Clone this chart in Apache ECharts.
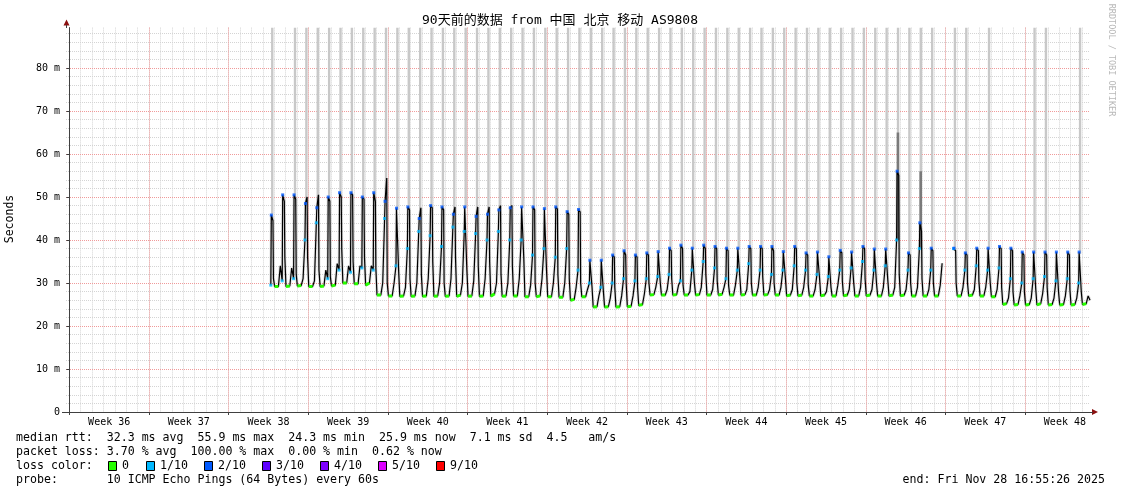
<!DOCTYPE html>
<html><head><meta charset="utf-8">
<script src="https://cdn.jsdelivr.net/npm/echarts@6/dist/echarts.min.js"></script>
<style>html,body{margin:0;padding:0;background:#fff}#c{width:1121px;height:494px}</style>
</head><body><div id="c"></div>
<script>
// ---------------- data ----------------
const TITLE = '90天前的数据 from 中国 北京 移动 AS9808';
const Y_TITLE = 'Seconds';
const WATERMARK = 'RRDTOOL / TOBI OETIKER';
const WEEK_NUMBERS = [36, 37, 38, 39, 40, 41, 42, 43, 44, 45, 46, 47, 48];
const Y_TICKS = [0, 10, 20, 30, 40, 50, 60, 70, 80];
// x = days since Sun Aug 31 2025 00:00 ; window = Aug 30 16:55:26 .. Nov 28 16:55:26
const X_MIN = -0.29484, X_MAX = 89.70516;
const Y_MAX = 89.4;
const FIRST_DAY = 17;
// hour-of-day of each value in a row: low, low, afternoon, pre-rise, peak, peak end, shoulder
const SLOT_HOURS = [1, 9, 13, 17, 18, 21.5, 22.5];
const DAY_ROWS = [
  [null, null, null, 29.5, 45.8, 44.5, 31.0],
  [29.2, 29.2, 34.0, 30.5, 50.5, 49.0, 36.0],
  [29.2, 29.3, 33.5, 31.0, 50.5, 49.5, 32.0],
  [29.3, 29.4, 31.0, 40.0, 48.5, 50.0, 36.0],
  [29.2, 29.2, 30.5, 44.0, 47.5, 50.5, 33.0],
  [29.2, 29.3, 33.0, 31.0, 50.0, 49.0, 31.5],
  [29.3, 29.5, 34.5, 33.0, 51.0, 50.0, 38.0],
  [30.0, 30.0, 34.0, 32.5, 51.0, 50.5, 35.0],
  [29.8, 29.8, 34.0, 33.5, 50.0, 49.5, 36.0],
  [29.5, 30.0, 34.0, 33.0, 51.0, 49.0, 33.5],
  [27.2, 27.2, 30.0, 45.0, 49.0, 54.4, 30.0],
  [27.0, 27.0, 30.0, 34.0, 47.4, 47.0, 33.0],
  [26.9, 27.0, 29.0, 38.0, 47.7, 47.0, 31.0],
  [26.9, 27.0, 30.0, 42.0, 45.0, 47.5, 32.0],
  [26.9, 27.0, 31.0, 41.0, 48.0, 47.5, 35.0],
  [26.9, 27.0, 30.0, 38.5, 47.7, 47.0, 30.0],
  [26.9, 27.0, 31.0, 43.0, 46.0, 47.7, 36.0],
  [26.9, 27.2, 30.0, 42.0, 47.7, 47.5, 33.0],
  [26.9, 27.0, 30.5, 41.5, 45.5, 47.7, 34.0],
  [26.9, 27.0, 31.0, 40.0, 46.0, 47.7, 35.0],
  [26.9, 27.5, 30.0, 42.0, 47.0, 48.0, 32.0],
  [26.9, 27.0, 30.0, 40.0, 47.5, 48.0, 34.0],
  [27.0, 27.0, 31.0, 40.0, 47.7, 47.5, 36.0],
  [26.8, 26.8, 29.5, 36.5, 47.7, 47.0, 30.0],
  [26.8, 27.0, 31.0, 38.0, 47.3, 47.0, 33.0],
  [26.8, 26.8, 30.0, 36.0, 47.7, 47.2, 32.0],
  [26.7, 26.7, 30.0, 38.0, 46.6, 46.0, 31.0],
  [26.0, 26.2, 29.0, 33.0, 47.1, 46.5, 30.0],
  [26.8, 26.8, 28.5, 30.0, 35.3, 35.0, 29.0],
  [24.4, 24.5, 27.0, 29.0, 35.3, 35.0, 28.0],
  [24.4, 24.5, 26.5, 30.0, 36.5, 36.0, 29.0],
  [24.4, 24.5, 27.0, 31.0, 37.5, 36.5, 30.0],
  [24.5, 24.6, 27.0, 30.5, 36.5, 36.0, 29.0],
  [24.8, 25.0, 27.5, 31.0, 37.0, 36.5, 30.0],
  [27.2, 27.3, 29.0, 31.5, 37.3, 37.0, 30.0],
  [27.2, 27.2, 28.5, 32.0, 38.1, 37.5, 31.0],
  [27.2, 27.3, 29.5, 30.5, 38.8, 38.0, 29.5],
  [27.2, 27.2, 28.0, 33.0, 38.1, 37.8, 30.0],
  [27.2, 27.3, 29.0, 35.0, 38.8, 38.0, 32.0],
  [27.2, 27.2, 28.5, 33.5, 38.5, 38.0, 30.5],
  [27.2, 27.4, 29.0, 31.0, 38.1, 37.5, 29.5],
  [27.2, 27.2, 29.5, 33.0, 38.1, 37.8, 31.0],
  [27.2, 27.3, 28.5, 34.5, 38.5, 38.0, 30.0],
  [27.2, 27.2, 29.0, 33.0, 38.5, 38.0, 31.5],
  [27.2, 27.3, 28.5, 32.0, 38.5, 37.5, 30.0],
  [27.2, 27.2, 29.0, 33.0, 37.3, 37.0, 31.0],
  [27.0, 27.2, 28.5, 34.0, 38.5, 38.0, 30.0],
  [27.0, 27.2, 29.0, 33.0, 37.0, 36.5, 29.5],
  [27.0, 27.0, 28.5, 32.0, 37.2, 37.0, 31.0],
  [27.0, 27.2, 28.0, 31.5, 36.1, 36.0, 29.0],
  [27.0, 27.0, 29.5, 33.0, 37.6, 37.0, 30.5],
  [27.0, 27.2, 28.5, 33.5, 37.2, 37.0, 30.0],
  [27.0, 27.0, 29.0, 35.0, 38.5, 38.0, 31.0],
  [27.0, 27.2, 28.5, 33.0, 37.9, 37.5, 30.0],
  [27.0, 27.0, 29.0, 34.0, 37.9, 37.5, 30.5],
  [27.0, 27.2, 29.0, 40.0, 56.0, 55.0, 32.0],
  [27.0, 27.2, 28.5, 33.0, 37.0, 36.5, 30.0],
  [27.0, 27.0, 29.0, 38.0, 44.0, 42.0, 31.0],
  [27.0, 27.0, 28.5, 33.0, 38.1, 37.5, 30.0],
  [27.0, 27.0, 29.5, 34.6, null, null, null],
  [null, null, null, 38.0, 38.1, 37.5, 30.0],
  [27.0, 27.0, 29.0, 33.0, 37.0, 36.5, 30.0],
  [27.0, 27.2, 28.5, 34.0, 38.1, 37.5, 30.5],
  [27.0, 27.0, 29.0, 33.0, 38.1, 37.8, 30.0],
  [26.8, 26.8, 28.5, 33.5, 38.5, 38.0, 29.0],
  [25.0, 25.2, 26.5, 31.0, 38.1, 37.5, 28.0],
  [24.9, 25.0, 27.0, 30.0, 37.2, 36.5, 28.0],
  [24.9, 25.0, 26.5, 31.0, 37.2, 36.8, 28.5],
  [24.9, 25.2, 27.5, 31.5, 37.2, 36.5, 29.0],
  [24.9, 25.0, 26.5, 30.5, 37.2, 36.8, 28.0],
  [24.9, 25.0, 27.0, 31.0, 37.2, 36.5, 28.5],
  [24.9, 25.0, 26.5, 30.0, 37.2, 36.8, 28.0],
  [25.0, 25.2, 27.0, 26.0, null, null, null]
];
// 1 = that evening's slowest pings went off the top of the chart
const TOP_SMOKE = [
  1,0,1,1,1,1,1,1,1,1,1,
  1,1,1,1,1,1,1,1,1,1,1,1,1,1,1,1,1,
  1,1,1,1,1,1,1,1,1,1,1,1,1,1,1,1,1,1,1,1,1,1,1,1,1,1,1,
  1,1,1,1,0,1,1,0,1,0,0,0,1,1,0,0,1,0
];
const SPIKE_DAYS = [72, 74];
const SPIKE_TOPS = [65, 56];
const STAT_LINES = [
  'median rtt:  32.3 ms avg  55.9 ms max  24.3 ms min  25.9 ms now  7.1 ms sd  4.5   am/s',
  'packet loss: 3.70 % avg  100.00 % max  0.00 % min  0.62 % now'
];
const LOSS_LABEL_TITLE = 'loss color:';
const LOSS_LABELS = ['0', '1/10', '2/10', '3/10', '4/10', '5/10', '9/10'];
const LOSS_COLORS = ['#26ff00', '#00b8ff', '#0059ff', '#5e00ff', '#7e00ff', '#dd00ff', '#ff0000'];
const PROBE_LINE = 'probe:       10 ICMP Echo Pings (64 Bytes) every 60s';
const END_LINE = 'end: Fri Nov 28 16:55:26 2025';

// ---------------- build ----------------
const MONO = "'DejaVu Sans Mono', 'Noto Sans CJK SC', monospace";
const median = [], greens = [], peaks = [], pres = [], bars = [], spikes = [];
DAY_ROWS.forEach((row, i) => {
  const day = FIRST_DAY + i;
  row.forEach((v, j) => median.push([day + SLOT_HOURS[j] / 24, v == null ? '-' : v]));
  if (row[0] != null && row[1] != null) {
    greens.push([day + SLOT_HOURS[0] / 24, row[0]], [day + SLOT_HOURS[1] / 24, row[1]], [day + SLOT_HOURS[1] / 24 + 0.01, '-']);
  }
  if (row[4] != null) peaks.push([day + SLOT_HOURS[4] / 24, row[4]]);
  if (row[3] != null && row[4] != null) pres.push([day + SLOT_HOURS[3] / 24, row[3]]);
  if (TOP_SMOKE[i] && row[4] != null) bars.push([day + 20 / 24, Math.min(row[4], row[5]), Y_MAX]);
});
SPIKE_DAYS.forEach((d, i) => {
  const row = DAY_ROWS[d - FIRST_DAY];
  spikes.push([d + 19.8 / 24, row[3], SPIKE_TOPS[i]]);
});
const DAY_GRID = []; for (let d = 0; d <= 89; d++) DAY_GRID.push(d);
const WEEK_GRID = []; for (let d = 0; d <= 84; d += 7) WEEK_GRID.push(d);
const WEEK_CENTERS = WEEK_NUMBERS.map((w, i) => 3.5 + 7 * i);
const Y_MINOR = []; for (let v = 0; v <= 88; v += 2) Y_MINOR.push(v);

const chart = echarts.init(document.getElementById('c'), null, {renderer: 'canvas'});
const rectItem = (fill, w) => (params, api) => {
  const a = api.coord([api.value(0), api.value(1)]);
  const b = api.coord([api.value(0), api.value(2)]);
  return {type: 'rect', shape: {x: a[0] - w / 2, y: b[1], width: w, height: a[1] - b[1]}, style: {fill: fill}};
};

const graphics = [
  {type: 'text', x: 560, y: 21, style: {text: TITLE, font: '13px ' + MONO, fill: '#000', align: 'center', verticalAlign: 'middle'}},
  {type: 'text', x: 10, y: 219, rotation: Math.PI / 2, style: {text: Y_TITLE, font: '11.5px ' + MONO, fill: '#000', align: 'center', verticalAlign: 'middle'}},
  {type: 'text', x: 1111, y: 60, rotation: -Math.PI / 2, style: {text: WATERMARK, font: '8.5px ' + MONO, fill: '#b8b8b8', align: 'center', verticalAlign: 'middle'}},
  {type: 'polygon', shape: {points: [[63.5, 25.5], [69.5, 25.5], [66.5, 19.5]]}, style: {fill: '#8b1010'}},
  {type: 'polygon', shape: {points: [[1092, 409], [1092, 415], [1098, 412]]}, style: {fill: '#8b1010'}},
  {type: 'line', shape: {x1: 66.5, y1: 25, x2: 66.5, y2: 28}, style: {stroke: '#404040', lineWidth: 1}},
  {type: 'line', shape: {x1: 62, y1: 412.5, x2: 66, y2: 412.5}, style: {stroke: '#404040', lineWidth: 1}},
  {type: 'line', shape: {x1: 1090, y1: 412.5, x2: 1093, y2: 412.5}, style: {stroke: '#404040', lineWidth: 1}},
  {type: 'text', x: 16, y: 438, style: {text: STAT_LINES[0], font: '11.6px ' + MONO, fill: '#000', verticalAlign: 'middle'}},
  {type: 'text', x: 16, y: 452, style: {text: STAT_LINES[1], font: '11.6px ' + MONO, fill: '#000', verticalAlign: 'middle'}},
  {type: 'text', x: 16, y: 466, style: {text: LOSS_LABEL_TITLE, font: '11.6px ' + MONO, fill: '#000', verticalAlign: 'middle'}},
  {type: 'text', x: 16, y: 480, style: {text: PROBE_LINE, font: '11.6px ' + MONO, fill: '#000', verticalAlign: 'middle'}},
  {type: 'text', x: 1105, y: 480, style: {text: END_LINE, font: '11.6px ' + MONO, fill: '#000', align: 'right', verticalAlign: 'middle'}}
];
const BOX_X = [108, 146, 204, 262, 320, 378, 436];
LOSS_LABELS.forEach((lab, i) => {
  graphics.push({type: 'rect', shape: {x: BOX_X[i] + 0.5, y: 461.5, width: 8, height: 9}, style: {fill: LOSS_COLORS[i], stroke: '#000', lineWidth: 1}});
  graphics.push({type: 'text', x: BOX_X[i] + 14, y: 466, style: {text: lab, font: '11.6px ' + MONO, fill: '#000', verticalAlign: 'middle'}});
});

chart.setOption({
  animation: false,
  backgroundColor: '#fff',
  grid: {left: 66, right: 31, top: 27.6, bottom: 82, containLabel: false},
  xAxis: [
    {type: 'value', position: 'bottom', min: X_MIN, max: X_MAX, axisLine: {show: false}, axisLabel: {show: false},
     axisTick: {show: false, customValues: DAY_GRID},
     splitLine: {show: true, lineStyle: {color: '#d4d4d4', type: [1, 1], width: 1}}},
    {type: 'value', position: 'bottom', min: X_MIN, max: X_MAX, z: 1,
     axisLine: {show: true, lineStyle: {color: '#404040', width: 1}},
     axisTick: {show: true, customValues: WEEK_GRID, length: 3, lineStyle: {color: '#404040'}},
     axisLabel: {show: true, customValues: WEEK_CENTERS, margin: 5, color: '#000', fontFamily: MONO, fontSize: 10,
       formatter: v => 'Week ' + WEEK_NUMBERS[Math.round((v - 3.5) / 7)]},
     splitLine: {show: true, lineStyle: {color: '#f09a9a', type: [1, 1], width: 1}}}
  ],
  yAxis: [
    {type: 'value', position: 'left', min: 0, max: Y_MAX, axisLine: {show: false}, axisLabel: {show: false},
     axisTick: {show: false, customValues: Y_MINOR},
     splitLine: {show: true, lineStyle: {color: '#d4d4d4', type: [1, 1], width: 1}}},
    {type: 'value', position: 'left', min: 0, max: Y_MAX, z: 1,
     axisLine: {show: true, lineStyle: {color: '#404040', width: 1}},
     axisTick: {show: true, customValues: Y_TICKS, length: 3, lineStyle: {color: '#404040'}},
     axisLabel: {show: true, customValues: Y_TICKS, margin: 6, color: '#000', fontFamily: MONO, fontSize: 10,
       formatter: v => v === 0 ? '0' : v + ' m'},
     splitLine: {show: true, lineStyle: {color: '#f09a9a', type: [1, 1], width: 1}}}
  ],
  graphic: graphics,
  series: [
    {type: 'custom', xAxisIndex: 1, yAxisIndex: 1, z: 2, silent: true, clip: true,
     renderItem: rectItem('#c8c8c8', 2.4), encode: {x: 0, y: [1, 2]}, data: bars},
    {type: 'custom', xAxisIndex: 1, yAxisIndex: 1, z: 3, silent: true, clip: true,
     renderItem: rectItem('#7a7a7a', 2.6), encode: {x: 0, y: [1, 2]}, data: spikes},
    {type: 'line', xAxisIndex: 1, yAxisIndex: 1, z: 4, silent: true, symbol: 'none', connectNulls: false,
     lineStyle: {color: 'rgba(0,0,0,0.12)', width: 3}, data: median},
    {type: 'line', xAxisIndex: 1, yAxisIndex: 1, z: 5, silent: true, symbol: 'none', connectNulls: false,
     lineStyle: {color: '#000', width: 1.2}, data: median},
    {type: 'line', xAxisIndex: 1, yAxisIndex: 1, z: 6, silent: true, symbol: 'none', connectNulls: false,
     lineStyle: {color: LOSS_COLORS[0], width: 3}, data: greens},
    {type: 'scatter', xAxisIndex: 1, yAxisIndex: 1, z: 7, silent: true, symbol: 'rect', symbolSize: 3,
     itemStyle: {color: LOSS_COLORS[1]}, data: pres},
    {type: 'scatter', xAxisIndex: 1, yAxisIndex: 1, z: 8, silent: true, symbol: 'rect', symbolSize: 3,
     itemStyle: {color: LOSS_COLORS[2]}, data: peaks}
  ]
});
</script></body></html>
